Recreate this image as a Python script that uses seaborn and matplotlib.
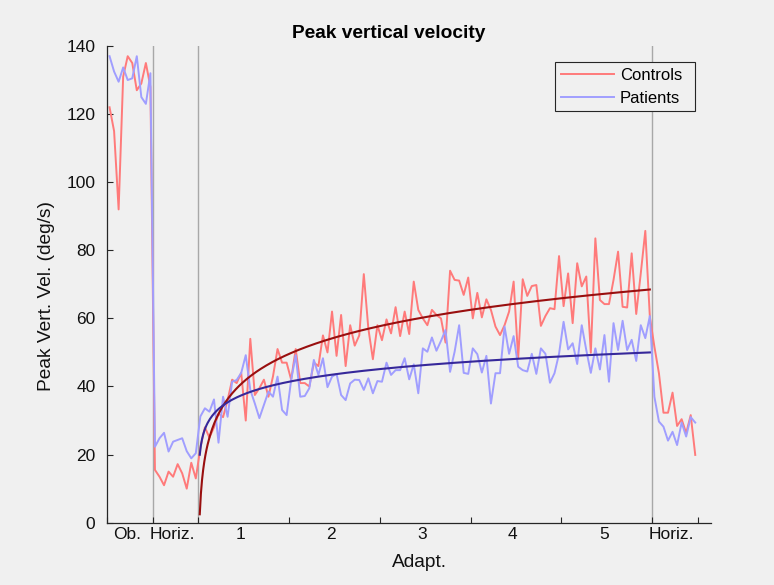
import numpy as np
import pandas as pd
import matplotlib
matplotlib.use("Agg")
import matplotlib.pyplot as plt
from matplotlib.lines import Line2D
from matplotlib.transforms import ScaledTranslation
import seaborn as sns

# ---------------- data ----------------
phase_labels = ["Ob.", "Horiz.", "1", "2", "3", "4", "5", "Horiz."]
phase_lengths = [10, 10, 20, 20, 20, 20, 20, 10]
groups = ["Controls", "Patients"]

ctrl_ob = [122, 115, 92, 131, 137, 135, 127, 129, 135, 128]
pat_ob = [137, 132.5, 129.5, 133.7, 130, 130.5, 137, 125, 123, 132]

ctrl_horiz1 = [15.5, 13.5, 11, 15, 13.5, 17.2, 14.5, 10, 17.6, 13]
pat_horiz1 = [22.3, 24.8, 26.4, 20.9, 23.8, 24.3, 24.8, 21, 18.9, 20.4]

ctrl_adapt = [22, 28, 25, 28, 32, 31, 36, 42, 41, 44,
              30, 54, 37.5, 39.5, 42, 37, 43, 51, 47, 47,
              42, 51, 41, 41, 40, 47, 46, 55, 50, 62,
              49, 61, 46, 58, 52, 55, 73, 57, 48, 58,
              53.6, 59.7, 55.6, 63.3, 54.8, 62, 55.4, 70.8, 62.5, 60,
              58, 62.5, 61, 60, 52.9, 74, 71.3, 71.1, 66.9, 72,
              60, 67.5, 60.3, 65.6, 62.5, 57.6, 55.1, 58, 62, 70.8,
              48.3, 71.5, 66.6, 69.5, 69.8, 57.8, 60.7, 63, 62.7, 78.3,
              63.6, 73.2, 58.6, 76.2, 69.4, 72.3, 49.9, 83.5, 65.4, 64.2,
              64.2, 71.3, 79.6, 63.4, 63.2, 79.1, 61.3, 73.2, 85.7, 60.5]
pat_adapt = [31.2, 33.6, 32.6, 36.2, 23.5, 37, 31.1, 41.4, 41.9, 44,
             49.2, 39, 35, 30.7, 34.6, 38.5, 37, 42.9, 33.1, 31.6,
             41.9, 49.2, 37, 37.2, 39.5, 47.8, 43.4, 48.3, 39.8, 42.9,
             43.7, 37.5, 36, 40.9, 42, 41.9, 39, 42.4, 38, 41.6,
             41.4, 47, 43.4, 44.8, 44.8, 48.3, 42.1, 46.5, 38, 51.2,
             50.2, 54.4, 50.5, 53.4, 56.6, 44.3, 50.2, 58, 44, 43.7,
             51.2, 49.5, 44.1, 49, 35, 43.9, 43.9, 57.6, 49.6, 54.8,
             45.8, 44.8, 44.4, 49.6, 43.7, 51.2, 49.6, 41.1, 43.9, 49.6,
             59, 50.9, 52.7, 46.6, 58, 50.7, 44, 51.2, 45, 55.1,
             41.4, 58.6, 50.7, 59.3, 50.7, 53.7, 47.5, 58, 54.2, 60.7]

ctrl_horiz2 = [51.7, 43.9, 32.3, 32.3, 38.2, 28.4, 30.4, 26.3, 31.6, 19.9]
pat_horiz2 = [37, 29.7, 28.2, 24.1, 26.7, 22.8, 29.4, 25.3, 31, 29.4]

# logarithmic adaptation fit: y = a + b * ln(trial within adaptation)
fit_a = [14.2, 25.3]
fit_b = [11.8, 5.37]

# ---------------- build tables ----------------
ctrl = np.array(ctrl_ob + ctrl_horiz1 + ctrl_adapt + ctrl_horiz2, float)
pat = np.array(pat_ob + pat_horiz1 + pat_adapt + pat_horiz2, float)
trial = np.arange(len(ctrl)) + 0.5
df = pd.DataFrame({
    "trial": np.concatenate([trial, trial]),
    "velocity": np.concatenate([ctrl, pat]),
    "group": ["Controls"] * len(ctrl) + ["Patients"] * len(pat),
})

bounds = np.concatenate([[0], np.cumsum(phase_lengths)])
mids = (bounds[:-1] + bounds[1:]) / 2
adapt_start = bounds[2]
adapt_end = bounds[7]
t = np.linspace(0.37, adapt_end - adapt_start - 0.5, 400)
fit_rows = []
for g, a, b in zip(groups, fit_a, fit_b):
    fit_rows.append(pd.DataFrame({"trial": adapt_start + t,
                                  "velocity": a + b * np.log(t),
                                  "group": g}))
fit_df = pd.concat(fit_rows, ignore_index=True)

# ---------------- style ----------------
plt.rcParams["font.family"] = ["Liberation Sans", "DejaVu Sans"]
BG = "#F0F0F0"
AX = "#262626"
line_pal = {"Controls": "#FF7A7A", "Patients": "#A09EFF"}
fit_pal = {"Controls": "#990F0F", "Patients": "#36289A"}

fig = plt.figure(figsize=(7.74, 5.85), dpi=100, facecolor=BG)
ax = fig.add_axes([0.1386, 0.1065, 0.7796, 0.8149])
ax.set_facecolor(BG)

for b in bounds[[1, 2, 7]]:
    ax.axvline(b, color="#A8A8A8", lw=1.0, zorder=1)

sns.lineplot(data=df, x="trial", y="velocity", hue="group", palette=line_pal,
             estimator=None, sort=False, lw=1.4, legend=False, ax=ax, zorder=2)
sns.lineplot(data=fit_df, x="trial", y="velocity", hue="group", palette=fit_pal,
             estimator=None, sort=False, lw=1.5, legend=False, ax=ax, zorder=3)

ax.set_xlim(0, 132.9)
ax.set_ylim(0, 140)
ax.set_yticks(np.arange(0, 141, 20))
ax.set_xticks(bounds)
ax.set_xticklabels([""] * len(bounds))
ax.set_xticks(mids, phase_labels, minor=True)

for s in ["top", "right"]:
    ax.spines[s].set_visible(False)
for s in ["left", "bottom"]:
    ax.spines[s].set_color(AX)
    ax.spines[s].set_linewidth(0.9)

ax.tick_params(axis="both", which="major", direction="in", length=4.4, width=0.8,
               color=AX, labelsize=12.5, labelcolor="#111111")
ax.tick_params(axis="y", which="major", pad=8.5)
ax.tick_params(axis="x", which="minor", length=0, pad=3.0, labelsize=12.5,
               labelcolor="#111111")
shift = ScaledTranslation(-3 / 100, 0, fig.dpi_scale_trans)
for lbl in ax.get_xticklabels(minor=True):
    lbl.set_transform(lbl.get_transform() + shift)

ax.set_xlabel("")
ax.set_ylabel("Peak Vert. Vel. (deg/s)", fontsize=13.8, color="#111111")
ax.yaxis.set_label_coords(-0.087, 0.475)
ax.text(0.518, -0.0923, "Adapt.", transform=ax.transAxes, ha="center",
        va="baseline", fontsize=13.8, color="#111111")
ax.text(0.4657, 1.0161, "Peak vertical velocity", transform=ax.transAxes,
        ha="center", va="baseline", fontsize=13.8, fontweight="bold",
        color="#000000")

handles = [Line2D([], [], color=line_pal[g], lw=1.4) for g in groups]
leg = ax.legend(handles, groups, loc="upper left",
                bbox_to_anchor=(0.742, 0.866, 0.232, 0.1), mode="expand",
                frameon=True, fancybox=False, edgecolor=AX, facecolor=BG,
                framealpha=1, fontsize=12, handlelength=3.2, handletextpad=0.35,
                labelspacing=0.45, borderpad=0.35, borderaxespad=0)
leg.get_frame().set_linewidth(0.8)

fig.savefig("out.png", dpi=100, facecolor=BG)
